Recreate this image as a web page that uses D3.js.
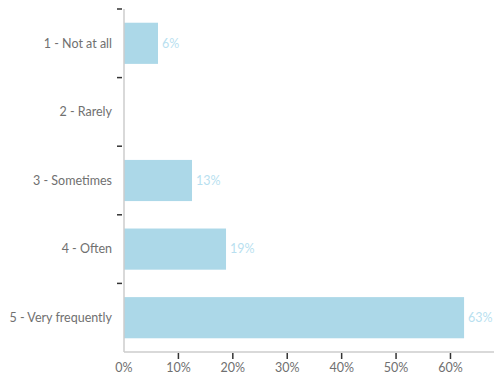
<!DOCTYPE html>
<html>
<head>
<meta charset="utf-8">
<script src="https://cdn.jsdelivr.net/npm/d3@7"></script>
<style>
  html, body { margin: 0; padding: 0; background: #fff; }
  svg text { font-family: Lato, "Open Sans", sans-serif; }
</style>
</head>
<body>
<svg id="chart" width="494" height="378"></svg>
<script>
// Response categories and share of respondents (%)
const categories = ["1 - Not at all", "2 - Rarely", "3 - Sometimes", "4 - Often", "5 - Very frequently"];
const shares = [6.25, 0, 12.5, 18.75, 62.5];
const xTicks = [0, 10, 20, 30, 40, 50, 60];

const margin = { top: 9, right: 0, bottom: 26, left: 124 };
const width = 494, height = 378;

const svg = d3.select("#chart");

const x = d3.scaleLinear()
  .domain([0, 68])
  .range([margin.left, width - margin.right]);

const y = d3.scaleBand()
  .domain(categories)
  .range([margin.top, height - margin.bottom])
  .paddingInner(0.4)
  .paddingOuter(0.2);

// Band boundaries for the category ticks
const yBounds = d3.scaleBand()
  .domain(categories)
  .range([margin.top, height - margin.bottom]);

const data = categories.map((c, i) => ({ cat: c, value: shares[i] }));

// Bars
svg.append("g")
  .selectAll("rect")
  .data(data)
  .join("rect")
  .attr("x", x(0))
  .attr("y", d => y(d.cat))
  .attr("width", d => x(d.value) - x(0))
  .attr("height", y.bandwidth())
  .attr("fill", "#acd8e8")
  .attr("display", d => d.value > 0 ? null : "none");

// Value labels
svg.append("g")
  .selectAll("text")
  .data(data.filter(d => d.value > 0))
  .join("text")
  .attr("x", d => x(d.value) + 4)
  .attr("y", d => y(d.cat) + y.bandwidth() / 2)
  .attr("dy", "0.35em")
  .attr("font-size", 12.5)
  .attr("fill", "#b9dff0")
  .text(d => Math.round(d.value) + "%");

// Y axis line
svg.append("line")
  .attr("x1", x(0)).attr("x2", x(0))
  .attr("y1", margin.top).attr("y2", height - margin.bottom)
  .attr("stroke", "#cccccc").attr("stroke-width", 1.5);

// Y boundary ticks
svg.append("g")
  .selectAll("line")
  .data(categories)
  .join("line")
  .attr("x1", x(0) - 7).attr("x2", x(0) - 2)
  .attr("y1", d => yBounds(d)).attr("y2", d => yBounds(d))
  .attr("stroke", "#333").attr("stroke-width", 1.5);

// Category labels
svg.append("g")
  .selectAll("text")
  .data(categories)
  .join("text")
  .attr("x", 112)
  .attr("y", d => yBounds(d) + yBounds.bandwidth() / 2)
  .attr("dy", "0.35em")
  .attr("text-anchor", "end")
  .attr("font-size", 12.5)
  .attr("fill", "#707070")
  .text(d => d);

// X axis line
svg.append("line")
  .attr("x1", x(0)).attr("x2", width)
  .attr("y1", height - margin.bottom).attr("y2", height - margin.bottom)
  .attr("stroke", "#cccccc").attr("stroke-width", 1.5);

// X ticks
const xt = svg.append("g")
  .selectAll("g")
  .data(xTicks)
  .join("g")
  .attr("transform", d => `translate(${x(d)},${height - margin.bottom})`);
xt.filter(d => d > 0).append("line")
  .attr("y1", 1).attr("y2", 7)
  .attr("stroke", "#333").attr("stroke-width", 1.5);
xt.append("text")
  .attr("y", 16)
  .attr("dy", "0.35em")
  .attr("text-anchor", "middle")
  .attr("font-size", 12.5)
  .attr("fill", "#707070")
  .text(d => d + "%");
</script>
</body>
</html>
